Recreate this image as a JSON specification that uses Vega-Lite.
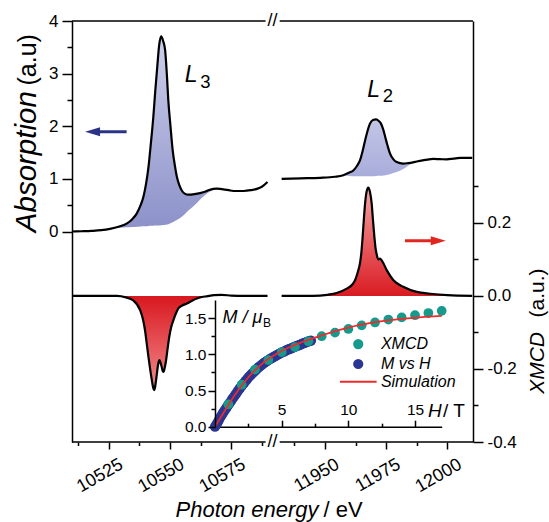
{
"$schema": "https://vega.github.io/schema/vega-lite/v6.json",
"width": 401, "height": 421,
"autosize": {"type": "none"},
"padding": {"left": 72, "top": 21, "right": 76, "bottom": 80},
"background": "white",
"config": {
  "view": {"stroke": null},
  "axis": {"grid": false, "domainColor": "#000", "domainWidth": 1.5, "tickColor": "#000", "tickWidth": 1.5, "labelColor": "#000", "labelFont": "Liberation Sans", "labelFontSize": 17, "labelOverlap": false, "titleColor": "#000", "titleFont": "Liberation Sans", "titleFontWeight": "normal"},
  "text": {"font": "Liberation Sans", "color": "#000"}
},
"datasets": {
  "abs": [
    {"seg":"L3","e":10510,"a":0.0},{"seg":"L3","e":10514,"a":0.005},{"seg":"L3","e":10518,"a":0.012},{"seg":"L3","e":10522,"a":0.025},
    {"seg":"L3","e":10525.5,"a":0.05,"b":0.05},{"seg":"L3","e":10529,"a":0.09,"b":0.07},{"seg":"L3","e":10532.3,"a":0.15,"b":0.08},
    {"seg":"L3","e":10534.5,"a":0.23,"b":0.085},{"seg":"L3","e":10536.4,"a":0.34,"b":0.09},{"seg":"L3","e":10538,"a":0.5,"b":0.095},
    {"seg":"L3","e":10539.1,"a":0.65,"b":0.1},{"seg":"L3","e":10540.2,"a":0.9,"b":0.1},{"seg":"L3","e":10541.2,"a":1.22,"b":0.105},
    {"seg":"L3","e":10542.2,"a":1.68,"b":0.11},{"seg":"L3","e":10543.2,"a":2.18,"b":0.11},{"seg":"L3","e":10544,"a":2.68,"b":0.112},
    {"seg":"L3","e":10544.8,"a":3.13,"b":0.115},{"seg":"L3","e":10545.6,"a":3.55,"b":0.115},{"seg":"L3","e":10546.4,"a":3.71,"b":0.12},
    {"seg":"L3","e":10547.2,"a":3.62,"b":0.125},{"seg":"L3","e":10548,"a":3.45,"b":0.13},{"seg":"L3","e":10548.7,"a":3.0,"b":0.135},
    {"seg":"L3","e":10549.3,"a":2.5,"b":0.14},{"seg":"L3","e":10550.2,"a":2.0,"b":0.155},{"seg":"L3","e":10551.1,"a":1.54,"b":0.175},
    {"seg":"L3","e":10552,"a":1.25,"b":0.2},{"seg":"L3","e":10552.8,"a":1.04,"b":0.22},{"seg":"L3","e":10553.8,"a":0.88,"b":0.245},
    {"seg":"L3","e":10554.8,"a":0.78,"b":0.28},{"seg":"L3","e":10556,"a":0.72,"b":0.33},{"seg":"L3","e":10557.5,"a":0.7,"b":0.4},
    {"seg":"L3","e":10560,"a":0.71,"b":0.5},{"seg":"L3","e":10562.3,"a":0.73,"b":0.61},{"seg":"L3","e":10564.5,"a":0.76,"b":0.7},
    {"seg":"L3","e":10566,"a":0.79,"b":0.75},{"seg":"L3","e":10567.7,"a":0.81,"b":0.79},{"seg":"L3","e":10569,"a":0.815,"b":0.815},
    {"seg":"L3","e":10570.5,"a":0.81},{"seg":"L3","e":10572.5,"a":0.795},{"seg":"L3","e":10574.5,"a":0.78},{"seg":"L3","e":10577,"a":0.77},
    {"seg":"L3","e":10580,"a":0.77},{"seg":"L3","e":10583,"a":0.785},{"seg":"L3","e":10585.5,"a":0.81},{"seg":"L3","e":10587.5,"a":0.85},
    {"seg":"L3","e":10589.8,"a":0.94},
    {"seg":"L2","e":11932.3,"a":1.0},{"seg":"L2","e":11940,"a":1.01},{"seg":"L2","e":11948,"a":1.02},{"seg":"L2","e":11954,"a":1.04},
    {"seg":"L2","e":11957.5,"a":1.07,"b":1.07},{"seg":"L2","e":11960,"a":1.12,"b":1.055},{"seg":"L2","e":11961.6,"a":1.16,"b":1.05},
    {"seg":"L2","e":11963,"a":1.24,"b":1.05},{"seg":"L2","e":11964.3,"a":1.35,"b":1.05},{"seg":"L2","e":11965.4,"a":1.53,"b":1.05},
    {"seg":"L2","e":11966.4,"a":1.73,"b":1.05},{"seg":"L2","e":11967.4,"a":1.91,"b":1.05},{"seg":"L2","e":11968.4,"a":2.05,"b":1.05},
    {"seg":"L2","e":11969.6,"a":2.12,"b":1.05},{"seg":"L2","e":11970.9,"a":2.13,"b":1.055},{"seg":"L2","e":11972,"a":2.1,"b":1.06},
    {"seg":"L2","e":11972.9,"a":2.05,"b":1.06},{"seg":"L2","e":11973.8,"a":1.94,"b":1.065},{"seg":"L2","e":11974.6,"a":1.8,"b":1.07},
    {"seg":"L2","e":11975.6,"a":1.63,"b":1.08},{"seg":"L2","e":11976.6,"a":1.48,"b":1.09},{"seg":"L2","e":11978,"a":1.37,"b":1.11},
    {"seg":"L2","e":11979.3,"a":1.32,"b":1.13},{"seg":"L2","e":11982,"a":1.29,"b":1.19},{"seg":"L2","e":11984,"a":1.3,"b":1.25},
    {"seg":"L2","e":11986,"a":1.315,"b":1.315},{"seg":"L2","e":11987.5,"a":1.33},{"seg":"L2","e":11991,"a":1.36},{"seg":"L2","e":11994.3,"a":1.38},
    {"seg":"L2","e":11997,"a":1.375},{"seg":"L2","e":11999.8,"a":1.37},{"seg":"L2","e":12002.5,"a":1.385},{"seg":"L2","e":12005.2,"a":1.4},
    {"seg":"L2","e":12010.2,"a":1.4}
  ],
  "xmcd": [
    {"seg":"L3","e":10510,"v":0},{"seg":"L3","e":10520,"v":0},{"seg":"L3","e":10528.3,"v":0},{"seg":"L3","e":10532,"v":-0.004},
    {"seg":"L3","e":10535,"v":-0.012},{"seg":"L3","e":10537.8,"v":-0.039},{"seg":"L3","e":10539,"v":-0.065},{"seg":"L3","e":10539.8,"v":-0.094},
    {"seg":"L3","e":10540.5,"v":-0.13},{"seg":"L3","e":10541.2,"v":-0.167},{"seg":"L3","e":10542,"v":-0.205},{"seg":"L3","e":10542.6,"v":-0.231},
    {"seg":"L3","e":10543.1,"v":-0.25},{"seg":"L3","e":10543.5,"v":-0.258},{"seg":"L3","e":10543.9,"v":-0.25},{"seg":"L3","e":10544.3,"v":-0.231},
    {"seg":"L3","e":10544.7,"v":-0.21},{"seg":"L3","e":10545,"v":-0.194},{"seg":"L3","e":10545.4,"v":-0.18},{"seg":"L3","e":10545.7,"v":-0.176},
    {"seg":"L3","e":10546.1,"v":-0.182},{"seg":"L3","e":10546.6,"v":-0.194},{"seg":"L3","e":10547,"v":-0.205},{"seg":"L3","e":10547.3,"v":-0.208},
    {"seg":"L3","e":10547.8,"v":-0.198},{"seg":"L3","e":10548.4,"v":-0.176},{"seg":"L3","e":10549,"v":-0.145},{"seg":"L3","e":10549.7,"v":-0.112},
    {"seg":"L3","e":10550.5,"v":-0.085},{"seg":"L3","e":10551.4,"v":-0.066},{"seg":"L3","e":10552.4,"v":-0.048},{"seg":"L3","e":10553.4,"v":-0.034},
    {"seg":"L3","e":10555,"v":-0.026},{"seg":"L3","e":10556.9,"v":-0.021},{"seg":"L3","e":10559,"v":-0.013},{"seg":"L3","e":10560.9,"v":-0.007},
    {"seg":"L3","e":10563,"v":-0.003},{"seg":"L3","e":10565,"v":-0.001},{"seg":"L3","e":10568,"v":0.002},{"seg":"L3","e":10571,"v":0.003},
    {"seg":"L3","e":10575,"v":0.001},{"seg":"L3","e":10580,"v":0},{"seg":"L3","e":10589.8,"v":0},
    {"seg":"L2","e":11932.3,"v":0},{"seg":"L2","e":11945,"v":0},{"seg":"L2","e":11951,"v":0.003},{"seg":"L2","e":11954.8,"v":0.008},
    {"seg":"L2","e":11958.9,"v":0.02},{"seg":"L2","e":11961,"v":0.03},{"seg":"L2","e":11962.3,"v":0.043},{"seg":"L2","e":11963.4,"v":0.065},
    {"seg":"L2","e":11964.3,"v":0.089},{"seg":"L2","e":11964.9,"v":0.12},{"seg":"L2","e":11965.4,"v":0.162},{"seg":"L2","e":11965.9,"v":0.21},
    {"seg":"L2","e":11966.4,"v":0.253},{"seg":"L2","e":11967,"v":0.285},{"seg":"L2","e":11967.7,"v":0.297},{"seg":"L2","e":11968.4,"v":0.285},
    {"seg":"L2","e":11969.1,"v":0.253},{"seg":"L2","e":11969.6,"v":0.21},{"seg":"L2","e":11970.2,"v":0.162},{"seg":"L2","e":11970.7,"v":0.13},
    {"seg":"L2","e":11971.2,"v":0.112},{"seg":"L2","e":11971.8,"v":0.1},{"seg":"L2","e":11972.5,"v":0.102},{"seg":"L2","e":11973.2,"v":0.097},
    {"seg":"L2","e":11973.6,"v":0.093},{"seg":"L2","e":11975.3,"v":0.07},{"seg":"L2","e":11978,"v":0.043},{"seg":"L2","e":11982,"v":0.025},
    {"seg":"L2","e":11987.5,"v":0.011},{"seg":"L2","e":11993,"v":0.006},{"seg":"L2","e":12000,"v":0.002},{"seg":"L2","e":12010.2,"v":0}
  ],
  "mvh": [
    {"H":0,"M":0},{"H":0.1,"M":0.03},{"H":0.2,"M":0.06},{"H":0.3,"M":0.095},{"H":0.4,"M":0.13},{"H":0.5,"M":0.16},
    {"H":0.6,"M":0.19},{"H":0.7,"M":0.22},{"H":0.8,"M":0.245},{"H":0.9,"M":0.275},{"H":1,"M":0.3},{"H":1.1,"M":0.33},
    {"H":1.2,"M":0.355},{"H":1.3,"M":0.385},{"H":1.4,"M":0.41},{"H":1.5,"M":0.435},{"H":1.6,"M":0.46},{"H":1.7,"M":0.49},
    {"H":1.8,"M":0.515},{"H":1.9,"M":0.54},{"H":2,"M":0.565},{"H":2.1,"M":0.59},{"H":2.2,"M":0.61},{"H":2.3,"M":0.635},
    {"H":2.4,"M":0.655},{"H":2.5,"M":0.68},{"H":2.6,"M":0.7},{"H":2.7,"M":0.72},{"H":2.8,"M":0.735},{"H":2.9,"M":0.755},
    {"H":3,"M":0.775},{"H":3.1,"M":0.79},{"H":3.2,"M":0.81},{"H":3.3,"M":0.825},{"H":3.4,"M":0.84},{"H":3.5,"M":0.855},
    {"H":3.6,"M":0.87},{"H":3.7,"M":0.885},{"H":3.8,"M":0.895},{"H":3.9,"M":0.91},{"H":4,"M":0.92},{"H":4.1,"M":0.935},
    {"H":4.2,"M":0.945},{"H":4.3,"M":0.955},{"H":4.4,"M":0.965},{"H":4.5,"M":0.975},{"H":4.6,"M":0.985},{"H":4.7,"M":0.995},
    {"H":4.8,"M":1.005},{"H":4.9,"M":1.015},{"H":5,"M":1.025},{"H":5.1,"M":1.033},{"H":5.2,"M":1.04},{"H":5.3,"M":1.05},
    {"H":5.4,"M":1.06},{"H":5.5,"M":1.068},{"H":5.6,"M":1.075},{"H":5.7,"M":1.083},{"H":5.8,"M":1.09},{"H":5.9,"M":1.098},
    {"H":6,"M":1.105},{"H":6.1,"M":1.113},{"H":6.2,"M":1.12},{"H":6.3,"M":1.128},{"H":6.4,"M":1.135},{"H":6.5,"M":1.143},
    {"H":6.6,"M":1.15},{"H":6.7,"M":1.158},{"H":6.8,"M":1.165},{"H":6.9,"M":1.173},{"H":7,"M":1.18},{"H":7.1,"M":1.185},{"H":7.2,"M":1.19}
  ],
  "xpts": [
    {"H":1,"M":0.31},{"H":2,"M":0.58},{"H":3,"M":0.79},{"H":4,"M":0.92},{"H":5,"M":1.03},{"H":6,"M":1.1},{"H":7,"M":1.18},
    {"H":8,"M":1.25},{"H":9,"M":1.3},{"H":10,"M":1.35},{"H":11,"M":1.4},{"H":12,"M":1.44},{"H":13,"M":1.48},{"H":14,"M":1.51},
    {"H":15,"M":1.54},{"H":16,"M":1.57},{"H":17,"M":1.6}
  ],
  "sim": [
    {"H":0,"M":0},{"H":0.5,"M":0.15},{"H":1,"M":0.3},{"H":1.5,"M":0.44},{"H":2,"M":0.57},{"H":2.5,"M":0.68},{"H":3,"M":0.78},
    {"H":3.5,"M":0.865},{"H":4,"M":0.935},{"H":4.5,"M":0.995},{"H":5,"M":1.045},{"H":5.5,"M":1.09},{"H":6,"M":1.13},{"H":6.5,"M":1.165},
    {"H":7,"M":1.2},{"H":7.5,"M":1.23},{"H":8,"M":1.26},{"H":9,"M":1.32},{"H":10,"M":1.37},{"H":11,"M":1.41},{"H":12,"M":1.445},
    {"H":13,"M":1.47},{"H":14,"M":1.49},{"H":15,"M":1.505},{"H":16,"M":1.52},{"H":17,"M":1.53}
  ]
},
"layer": [
  {"data":{"name":"abs"},"transform":[{"filter":"datum.seg === 'L3' && isValid(datum.b)"}],
   "mark":{"type":"area","interpolate":"monotone","fill":{"gradient":"linear","x1":0,"y1":0,"x2":0,"y2":1,"stops":[{"offset":0,"color":"#cdd0eb"},{"offset":1,"color":"#8c91c9"}]}},
   "encoding":{
     "x":{"field":"e","type":"quantitative","scale":{"domain":[10510,10590,11930,12010.5],"range":[0,196,204,401],"nice":false,"zero":false},
          "axis":{"orient":"bottom","values":[10525,10550,10575,11950,11975,12000],"format":"d","domain":false,"tickSize":7,"labelAngle":-30,"labelAlign":"right","labelBaseline":"top","labelPadding":6,"labelOffset":8,"labelFontSize":18,
                  "title":"Photon energy","titleFontStyle":"italic","titleFontSize":22,"titleX":103,"titleY":74.7,"titleAlign":"left","titleBaseline":"alphabetic","titleAngle":0}},
     "y":{"field":"a","type":"quantitative","scale":{"domain":[-4,4],"nice":false,"zero":false},
          "axis":{"orient":"left","values":[0,1,2,3,4],"tickSize":10,"labelPadding":4,"labelFontSize":17,
                  "title":"Absorption","titleFontStyle":"italic","titleFontSize":29.5,"titleAngle":-90,"titleX":-37,"titleY":210.7,"titleAlign":"left","titleBaseline":"alphabetic"}},
     "y2":{"field":"b"}}},
  {"data":{"name":"abs"},"transform":[{"filter":"datum.seg === 'L2' && isValid(datum.b)"}],
   "mark":{"type":"area","interpolate":"monotone","fill":{"gradient":"linear","x1":0,"y1":0,"x2":0,"y2":1,"stops":[{"offset":0,"color":"#c3c6e6"},{"offset":1,"color":"#a8acda"}]}},
   "encoding":{
     "x":{"field":"e","type":"quantitative","scale":{"domain":[10510,10590,11930,12010.5],"range":[0,196,204,401],"nice":false,"zero":false},"axis":null},
     "y":{"field":"a","type":"quantitative","scale":{"domain":[-4,4],"nice":false,"zero":false},"axis":null},
     "y2":{"field":"b"}}},
  {"data":{"name":"abs"},
   "mark":{"type":"line","interpolate":"monotone","stroke":"#000","strokeWidth":2.2},
   "encoding":{
     "detail":{"field":"seg"},
     "x":{"field":"e","type":"quantitative","scale":{"domain":[10510,10590,11930,12010.5],"range":[0,196,204,401],"nice":false,"zero":false},
          "axis":{"orient":"bottom","values":[10512.5,10537.5,10562.5,10587.5,11937.5,11962.5,11987.5],"domain":false,"labels":false,"tickSize":3.5,
                  "title":"/ eV","titleFontSize":22,"titleX":251,"titleY":74.7,"titleAlign":"left","titleBaseline":"alphabetic","titleAngle":0}},
     "y":{"field":"a","type":"quantitative","scale":{"domain":[-4,4],"nice":false,"zero":false},
          "axis":{"orient":"left","values":[0.5,1.5,2.5,3.5],"domain":false,"labels":false,"tickSize":5,
                  "title":"(a.u)","titleFontSize":25,"titleAngle":-90,"titleX":-37,"titleY":64,"titleAlign":"left","titleBaseline":"alphabetic"}}}},
  {"data":{"name":"xmcd"},"transform":[{"filter":"datum.seg === 'L3'"}],
   "mark":{"type":"area","interpolate":"monotone","fill":{"gradient":"linear","x1":0,"y1":0,"x2":0,"y2":1,"stops":[{"offset":0,"color":"#d8171e"},{"offset":1,"color":"#f28b8d"}]}},
   "encoding":{
     "x":{"field":"e","type":"quantitative","scale":{"domain":[10510,10590,11930,12010.5],"range":[0,196,204,401],"nice":false,"zero":false},"axis":null},
     "y":{"field":"v","type":"quantitative","scale":{"domain":[-0.4,0.753],"nice":false,"zero":false},
          "axis":{"orient":"right","values":[-0.4,-0.2,0,0.2],"tickSize":10,"labelPadding":4,"labelFontSize":17,
                  "labelExpr":"(datum.value < 0 ? '-' : '') + format(abs(datum.value), '.1f')",
                  "title":"XMCD","titleFontStyle":"italic","titleFontSize":21,"titleAngle":-90,"titleX":70,"titleY":372.3,"titleAlign":"left","titleBaseline":"alphabetic"}},
     "y2":{"datum":0}}},
  {"data":{"name":"xmcd"},"transform":[{"filter":"datum.seg === 'L2'"}],
   "mark":{"type":"area","interpolate":"monotone","fill":{"gradient":"linear","x1":0,"y1":0,"x2":0,"y2":1,"stops":[{"offset":0,"color":"#f6a5a5"},{"offset":1,"color":"#d91b22"}]}},
   "encoding":{
     "x":{"field":"e","type":"quantitative","scale":{"domain":[10510,10590,11930,12010.5],"range":[0,196,204,401],"nice":false,"zero":false},"axis":null},
     "y":{"field":"v","type":"quantitative","scale":{"domain":[-0.4,0.753],"nice":false,"zero":false},"axis":null},
     "y2":{"datum":0}}},
  {"data":{"name":"xmcd"},
   "mark":{"type":"line","interpolate":"monotone","stroke":"#000","strokeWidth":2.2},
   "encoding":{
     "detail":{"field":"seg"},
     "x":{"field":"e","type":"quantitative","scale":{"domain":[10510,10590,11930,12010.5],"range":[0,196,204,401],"nice":false,"zero":false},"axis":null},
     "y":{"field":"v","type":"quantitative","scale":{"domain":[-0.4,0.753],"nice":false,"zero":false},
          "axis":{"orient":"right","values":[-0.3,-0.1,0.1,0.3],"domain":false,"labels":false,"tickSize":5,
                  "title":"(a.u.)","titleFontSize":21,"titleAngle":-90,"titleX":70,"titleY":296,"titleAlign":"left","titleBaseline":"alphabetic"}}}},
  {"data":{"values":[{}]},"mark":{"type":"rule","stroke":"#000","strokeWidth":1.5},
   "encoding":{"x":{"datum":10510,"type":"quantitative","scale":{"domain":[10510,10590,11930,12010.5],"range":[0,196,204,401],"nice":false,"zero":false},"axis":null},"x2":{"datum":10589},
               "y":{"datum":4,"type":"quantitative","scale":{"domain":[-4,4],"nice":false,"zero":false},"axis":null}}},
  {"data":{"values":[{}]},"mark":{"type":"rule","stroke":"#000","strokeWidth":1.5},
   "encoding":{"x":{"datum":11931.5,"type":"quantitative","scale":{"domain":[10510,10590,11930,12010.5],"range":[0,196,204,401],"nice":false,"zero":false},"axis":null},"x2":{"datum":12010.5},
               "y":{"datum":4,"type":"quantitative","scale":{"domain":[-4,4],"nice":false,"zero":false},"axis":null}}},
  {"data":{"values":[{}]},"mark":{"type":"rule","stroke":"#000","strokeWidth":1.5},
   "encoding":{"x":{"datum":10510,"type":"quantitative","scale":{"domain":[10510,10590,11930,12010.5],"range":[0,196,204,401],"nice":false,"zero":false},"axis":null},"x2":{"datum":10589},
               "y":{"datum":-4,"type":"quantitative","scale":{"domain":[-4,4],"nice":false,"zero":false},"axis":null}}},
  {"data":{"values":[{}]},"mark":{"type":"rule","stroke":"#000","strokeWidth":1.5},
   "encoding":{"x":{"datum":11931.5,"type":"quantitative","scale":{"domain":[10510,10590,11930,12010.5],"range":[0,196,204,401],"nice":false,"zero":false},"axis":null},"x2":{"datum":12010.5},
               "y":{"datum":-4,"type":"quantitative","scale":{"domain":[-4,4],"nice":false,"zero":false},"axis":null}}},
  {"data":{"values":[{}]},"mark":{"type":"text","text":"//","fontSize":18,"align":"center","baseline":"middle"},
   "encoding":{"x":{"datum":11343,"type":"quantitative","scale":{"domain":[10510,10590,11930,12010.5],"range":[0,196,204,401],"nice":false,"zero":false},"axis":null},
               "y":{"datum":4,"type":"quantitative","scale":{"domain":[-4,4],"nice":false,"zero":false},"axis":null}}},
  {"data":{"values":[{}]},"mark":{"type":"text","text":"//","fontSize":18,"align":"center","baseline":"middle"},
   "encoding":{"x":{"datum":11343,"type":"quantitative","scale":{"domain":[10510,10590,11930,12010.5],"range":[0,196,204,401],"nice":false,"zero":false},"axis":null},
               "y":{"datum":-4,"type":"quantitative","scale":{"domain":[-4,4],"nice":false,"zero":false},"axis":null}}},
  {"data":{"values":[{}]},"mark":{"type":"text","text":"L","fontSize":23,"fontStyle":"italic","align":"left","baseline":"alphabetic"},
   "encoding":{"x":{"datum":10556,"type":"quantitative","scale":{"domain":[10510,10590,11930,12010.5],"range":[0,196,204,401],"nice":false,"zero":false},"axis":null},
               "y":{"datum":2.846,"type":"quantitative","scale":{"domain":[-4,4],"nice":false,"zero":false},"axis":null}}},
  {"data":{"values":[{}]},"mark":{"type":"text","text":"3","fontSize":18.5,"align":"left","baseline":"alphabetic"},
   "encoding":{"x":{"datum":10562.3,"type":"quantitative","scale":{"domain":[10510,10590,11930,12010.5],"range":[0,196,204,401],"nice":false,"zero":false},"axis":null},
               "y":{"datum":2.72,"type":"quantitative","scale":{"domain":[-4,4],"nice":false,"zero":false},"axis":null}}},
  {"data":{"values":[{}]},"mark":{"type":"text","text":"L","fontSize":23,"fontStyle":"italic","align":"left","baseline":"alphabetic"},
   "encoding":{"x":{"datum":11967.3,"type":"quantitative","scale":{"domain":[10510,10590,11930,12010.5],"range":[0,196,204,401],"nice":false,"zero":false},"axis":null},
               "y":{"datum":2.56,"type":"quantitative","scale":{"domain":[-4,4],"nice":false,"zero":false},"axis":null}}},
  {"data":{"values":[{}]},"mark":{"type":"text","text":"2","fontSize":18.5,"align":"left","baseline":"alphabetic"},
   "encoding":{"x":{"datum":11973.6,"type":"quantitative","scale":{"domain":[10510,10590,11930,12010.5],"range":[0,196,204,401],"nice":false,"zero":false},"axis":null},
               "y":{"datum":2.47,"type":"quantitative","scale":{"domain":[-4,4],"nice":false,"zero":false},"axis":null}}},
  {"data":{"values":[{}]},"mark":{"type":"rule","stroke":"#2b3388","strokeWidth":3},
   "encoding":{"x":{"datum":10518.4,"type":"quantitative","scale":{"domain":[10510,10590,11930,12010.5],"range":[0,196,204,401],"nice":false,"zero":false},"axis":null},"x2":{"datum":10532.3},
               "y":{"datum":1.896,"type":"quantitative","scale":{"domain":[-4,4],"nice":false,"zero":false},"axis":null}}},
  {"data":{"values":[{}]},"mark":{"type":"point","shape":"M -1 0 L 1 -0.6 L 1 0.6 Z","size":225,"filled":true,"fill":"#2b3388","opacity":1,"strokeWidth":0},
   "encoding":{"x":{"datum":10518.4,"type":"quantitative","scale":{"domain":[10510,10590,11930,12010.5],"range":[0,196,204,401],"nice":false,"zero":false},"axis":null},
               "y":{"datum":1.896,"type":"quantitative","scale":{"domain":[-4,4],"nice":false,"zero":false},"axis":null}}},
  {"data":{"values":[{}]},"mark":{"type":"rule","stroke":"#e0261f","strokeWidth":3},
   "encoding":{"x":{"datum":11982.7,"type":"quantitative","scale":{"domain":[10510,10590,11930,12010.5],"range":[0,196,204,401],"nice":false,"zero":false},"axis":null},"x2":{"datum":11996.3},
               "y":{"datum":0.151,"type":"quantitative","scale":{"domain":[-0.4,0.753],"nice":false,"zero":false},"axis":null}}},
  {"data":{"values":[{}]},"mark":{"type":"point","shape":"M 1 0 L -1 -0.6 L -1 0.6 Z","size":225,"filled":true,"fill":"#e0261f","opacity":1,"strokeWidth":0},
   "encoding":{"x":{"datum":11996.3,"type":"quantitative","scale":{"domain":[10510,10590,11930,12010.5],"range":[0,196,204,401],"nice":false,"zero":false},"axis":null},
               "y":{"datum":0.151,"type":"quantitative","scale":{"domain":[-0.4,0.753],"nice":false,"zero":false},"axis":null}}},
  {"data":{"name":"mvh"},
   "mark":{"type":"point","filled":true,"size":105,"opacity":1,"strokeWidth":0,"fill":"#2a3792"},
   "encoding":{
     "x":{"field":"H","type":"quantitative","scale":{"domain":[0,17],"range":[143,369.7],"nice":false,"zero":false},
          "axis":{"orient":"top","offset":-405.7,"values":[5,10,15],"tickSize":6.5,"labelPadding":3,"labelFontSize":15.5,"title":null}},
     "y":{"field":"M","type":"quantitative","scale":{"domain":[0,1.75],"range":[405.7,279],"nice":false,"zero":false},
          "axis":{"orient":"left","offset":-143,"values":[0.0001,0.5,1,1.5],"labelExpr":"format(datum.value, '.1f')","tickSize":7,"labelPadding":2,"labelFontSize":15.5,
                  "labelBound":false,"labelFlush":false,"labelOverlap":false,"zindex":1,
                  "title":"M / μ","titleFontStyle":"italic","titleFontSize":18,"titleAngle":0,"titleX":7,"titleY":301,"titleAlign":"left","titleBaseline":"alphabetic"}}}},
  {"data":{"name":"xpts"},
   "mark":{"type":"point","filled":true,"size":95,"opacity":1,"strokeWidth":0,"fill":"#159a8c"},
   "encoding":{
     "x":{"field":"H","type":"quantitative","scale":{"domain":[0,17],"range":[143,369.7],"nice":false,"zero":false},
          "axis":{"orient":"top","offset":-405.7,"values":[2.5,7.5,12.5],"domain":false,"labels":false,"tickSize":3.5,
                  "title":"H","titleFontStyle":"italic","titleFontSize":19,"titleAngle":0,"titleX":355.5,"titleY":-10.3,"titleAlign":"left","titleBaseline":"alphabetic"}},
     "y":{"field":"M","type":"quantitative","scale":{"domain":[0,1.75],"range":[405.7,279],"nice":false,"zero":false},
          "axis":{"orient":"left","offset":-143,"values":[0.25,0.75,1.25],"domain":false,"labels":false,"tickSize":4,
                  "title":"B","titleFontSize":12,"titleAngle":0,"titleX":47.5,"titleY":305,"titleAlign":"left","titleBaseline":"alphabetic"}}}},
  {"data":{"name":"sim"},
   "mark":{"type":"line","interpolate":"monotone","strokeWidth":1.8,"stroke":"#ec2b2b"},
   "encoding":{
     "x":{"field":"H","type":"quantitative","scale":{"domain":[0,17],"range":[143,369.7],"nice":false,"zero":false},
          "axis":{"orient":"top","offset":-405.7,"values":[],"domain":false,"labels":false,"ticks":false,
                  "title":"/ T","titleFontSize":19,"titleAngle":0,"titleX":370.5,"titleY":-10.3,"titleAlign":"left","titleBaseline":"alphabetic"}},
     "y":{"field":"M","type":"quantitative","scale":{"domain":[0,1.75],"range":[405.7,279],"nice":false,"zero":false},"axis":null}}},
  {"data":{"values":[{}]},"mark":{"type":"point","filled":true,"size":105,"opacity":1,"strokeWidth":0,"fill":"#159a8c"},
   "encoding":{"x":{"datum":10.74,"type":"quantitative","scale":{"domain":[0,17],"range":[143,369.7],"nice":false,"zero":false},"axis":null},
               "y":{"datum":1.142,"type":"quantitative","scale":{"domain":[0,1.75],"range":[405.7,279],"nice":false,"zero":false},"axis":null}}},
  {"data":{"values":[{}]},"mark":{"type":"point","filled":true,"size":105,"opacity":1,"strokeWidth":0,"fill":"#2a3792"},
   "encoding":{"x":{"datum":10.74,"type":"quantitative","scale":{"domain":[0,17],"range":[143,369.7],"nice":false,"zero":false},"axis":null},
               "y":{"datum":0.866,"type":"quantitative","scale":{"domain":[0,1.75],"range":[405.7,279],"nice":false,"zero":false},"axis":null}}},
  {"data":{"values":[{}]},"mark":{"type":"rule","stroke":"#ec2b2b","strokeWidth":2},
   "encoding":{"x":{"datum":9.37,"type":"quantitative","scale":{"domain":[0,17],"range":[143,369.7],"nice":false,"zero":false},"axis":null},"x2":{"datum":12.12},
               "y":{"datum":0.622,"type":"quantitative","scale":{"domain":[0,1.75],"range":[405.7,279],"nice":false,"zero":false},"axis":null}}},
  {"data":{"values":[{}]},"mark":{"type":"text","text":"XMCD","fontSize":16,"fontStyle":"italic","align":"left","baseline":"middle"},
   "encoding":{"x":{"datum":12.44,"type":"quantitative","scale":{"domain":[0,17],"range":[143,369.7],"nice":false,"zero":false},"axis":null},
               "y":{"datum":1.142,"type":"quantitative","scale":{"domain":[0,1.75],"range":[405.7,279],"nice":false,"zero":false},"axis":null}}},
  {"data":{"values":[{}]},"mark":{"type":"text","text":"M vs H","fontSize":16,"fontStyle":"italic","align":"left","baseline":"middle"},
   "encoding":{"x":{"datum":12.44,"type":"quantitative","scale":{"domain":[0,17],"range":[143,369.7],"nice":false,"zero":false},"axis":null},
               "y":{"datum":0.866,"type":"quantitative","scale":{"domain":[0,1.75],"range":[405.7,279],"nice":false,"zero":false},"axis":null}}},
  {"data":{"values":[{}]},"mark":{"type":"text","text":"Simulation","fontSize":16,"fontStyle":"italic","align":"left","baseline":"middle"},
   "encoding":{"x":{"datum":12.44,"type":"quantitative","scale":{"domain":[0,17],"range":[143,369.7],"nice":false,"zero":false},"axis":null},
               "y":{"datum":0.622,"type":"quantitative","scale":{"domain":[0,1.75],"range":[405.7,279],"nice":false,"zero":false},"axis":null}}}
],
"resolve": {"scale": {"x": "independent", "y": "independent"}}
}
